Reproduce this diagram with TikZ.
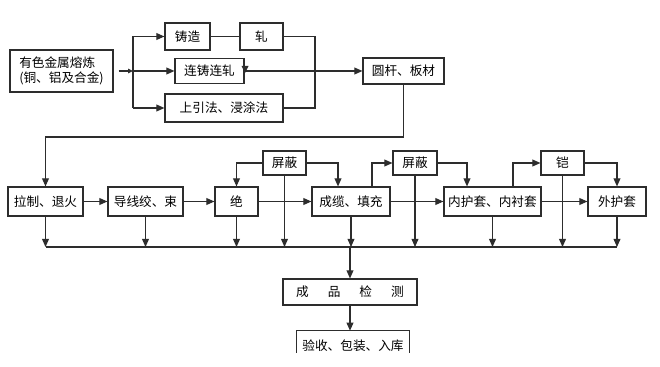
\documentclass[tikz,border=0pt]{standalone}
\usepackage{fontspec}
\newfontfamily\cjk{Noto Sans CJK SC}
\usepackage{tikz}
\usetikzlibrary{calc, arrows.meta}
\definecolor{lineink}{RGB}{45,45,45}

\begin{document}
\begin{tikzpicture}[
  x=0.025cm, y=-0.025cm,
  >={Triangle[length=2mm, width=1.7mm]},
  every node/.style={font=\cjk\fontsize{9}{11}\selectfont, text=black},
  stepbox/.style={draw=lineink, line width=0.8pt, inner sep=0pt, fill=white},
  link/.style={draw=lineink, line width=0.8pt},
  arr/.style={link, ->}
]
\useasboundingbox (0,0) rectangle (660,367);
% raw material and first stage
\node[stepbox, minimum width=2.575cm, minimum height=1.05cm, align=left] (melt) at (61.5,71)
  {有色金属熔炼\\(铜、铝及合金)};
\node[stepbox, minimum width=1.125cm, minimum height=0.675cm] (zhuzao) at (187.5,36.5) {铸造};
\node[stepbox, minimum width=1.075cm, minimum height=0.675cm] (zha) at (261.5,36.5) {轧};
\node[stepbox, minimum width=1.725cm, minimum height=0.625cm] (lianzhu) at (209.5,71) {连铸连轧};
\node[stepbox, minimum width=2.95cm, minimum height=0.7cm] (shangyin) at (224,108) {上引法、浸涂法};
\node[stepbox, minimum width=2.025cm, minimum height=0.65cm] (yuangan) at (403.5,71) {圆杆、板材};
\coordinate (split) at (133,71);
\coordinate (merge) at (315,71);
\draw[link, -{Triangle[length=1.2mm, width=1.1mm]}] ($(melt.east)+(5,0)$) -- (split);
\draw[link] (split |- zhuzao) -- (split |- shangyin);
\draw[arr] (split |- zhuzao) -- (zhuzao);
\draw[arr] (split) -- (lianzhu);
\draw[arr] (split |- shangyin) -- (shangyin);
\draw[link] (zhuzao) -- (zha);
\draw[link] (zha.east) -| (merge |- shangyin) -- (shangyin.east);
\draw[arr] (lianzhu.east) -- (yuangan.west);
\fill[lineink] ($(lianzhu.east)+(-3,-5)$) -- ++(7,0) -- ++(-3.5,7) -- cycle;
% main line
\node[stepbox, minimum width=1.875cm, minimum height=0.725cm] (lazhi) at (45.5,201.5) {拉制、退火};
\node[stepbox, minimum width=1.875cm, minimum height=0.725cm] (daoxian) at (145.5,201.5) {导线绞、束};
\node[stepbox, minimum width=1.075cm, minimum height=0.725cm] (jue) at (236.5,201.5) {绝};
\node[stepbox, minimum width=1.95cm, minimum height=0.725cm] (chenglan) at (351,201.5) {成缆、填充};
\node[stepbox, minimum width=2.425cm, minimum height=0.725cm] (neihu) at (492.5,201.5) {内护套、内衬套};
\node[stepbox, minimum width=1.45cm, minimum height=0.725cm] (waihu) at (617,201.5) {外护套};
\node[stepbox, minimum width=1.075cm, minimum height=0.6cm] (pingbiA) at (284.5,163) {屏蔽};
\node[stepbox, minimum width=1.1cm, minimum height=0.6cm] (pingbiB) at (415,163) {屏蔽};
\node[stepbox, minimum width=1.075cm, minimum height=0.6cm] (kai) at (562.5,163) {铠};
\coordinate (turn) at (0,137);
\draw[arr] (yuangan.south) -- (yuangan.south |- turn) -| (lazhi.north);
\draw[arr] (lazhi) -- (daoxian);
\draw[arr] (daoxian) -- (jue);
\draw[arr] (jue) -- (chenglan);
\draw[arr] (chenglan) -- (neihu);
\draw[arr] (neihu) -- (waihu);
\draw[arr] (pingbiA.west) -| (jue.north);
\draw[arr] (pingbiA.east) -| ($(chenglan.north)+(-13,0)$);
\draw[arr] ($(chenglan.north)+(21,0)$) |- (pingbiB.west);
\draw[arr] (pingbiB.east) -| ($(neihu.north)+(-25.5,0)$);
\draw[arr] ($(neihu.north)+(20.5,0)$) |- (kai.west);
\draw[arr] (kai.east) -| (waihu.north);
% collecting line
\coordinate (bus) at (0,247);
\draw[link] (lazhi.south |- bus) -- (waihu.south |- bus);
\foreach \n in {lazhi, daoxian, jue, pingbiA, chenglan, pingbiB, neihu, kai, waihu}
  \draw[arr] (\n.south) -- (\n.south |- bus);
% testing and storage
\node[stepbox, minimum width=3.35cm, minimum height=0.65cm] (jiance) at (350,292)
  {成\hspace{1.5em}品\hspace{1.5em}检\hspace{1.5em}测};
\node[inner sep=0pt, minimum width=2.8cm, minimum height=0.75cm] (yanshou) at (353,346) {验收、包装、入库};
\draw[link] ($(yanshou.north west)+(0,22)$) -- (yanshou.north west) -- (yanshou.north east) -- ++(0,22);
\draw[arr] (jiance.north |- bus) -- (jiance.north);
\draw[arr] (jiance.south) -- (jiance.south |- yanshou.north);
\end{tikzpicture}
\end{document}
